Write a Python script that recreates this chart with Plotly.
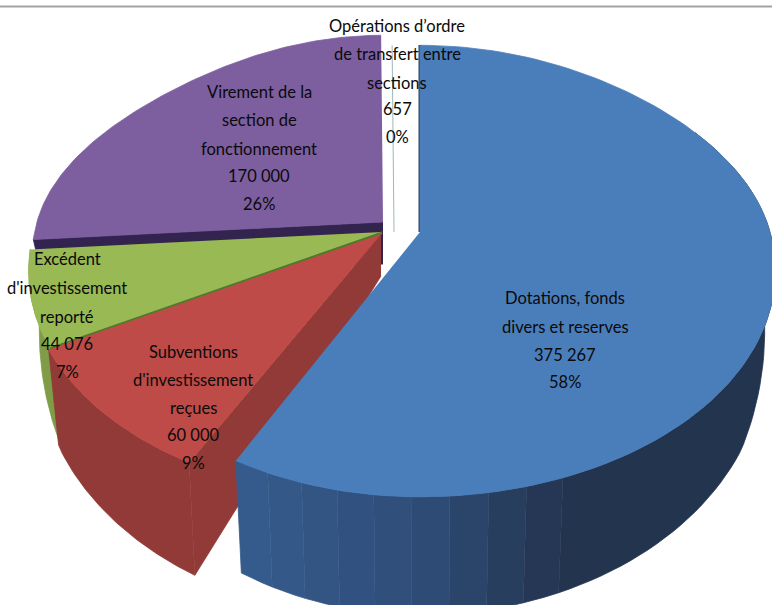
"""3D-looking exploded pie of the investment budget, drawn with filled scatter traces."""

import numpy as np
import plotly.graph_objects as go

# Chart data
categories = [
    ["Dotations, fonds", "divers et reserves"],
    ["Subventions", "d'investissement", "reçues"],
    ["Excédent", "d'investissement", "reporté"],
    ["Virement de la", "section de", "fonctionnement"],
    ["Opérations d’ordre", "de transfert entre", "sections"],
]
values = [375267, 60000, 44076, 170000, 657]

# Styles, in the same order as the slices
top_colors = ["#4a7ebb", "#be4b48", "#98b954", "#7d5fa0", "#9db8bd"]
wall_colors = ["#2f4d78", "#923a37", "#7f9c46", "#33234f", "#9db8bd"]
cut_colors = ["#2a3f60", "#923a37", "#4f7a2a", "#33234f", "#9db8bd"]
apexes = [(420, 232), (381, 234), (382, 232), (383, 222), (394, 232)]
left_radii = [334, 348, 348, 346, 350]
flatten = [0.02, 0, 0, 0.045, 0]  # the far part of the rim is not quite elliptical
label_x = [565, 193, 67, 259, 397]
label_y = [
    [298, 327, 355, 382],
    [352, 380, 408, 435, 463],
    [259, 288, 317, 344, 372],
    [92, 120, 149, 176, 204],
    [26, 54, 83, 109, 137],
]

# Projection of the pie disc, in pixels
RADIUS_X = 350
RADIUS_Y = 219
TILT = 0.173
WALL_SHRINK = 0.97


def rim(angle, i):
    """Project angles (degrees clockwise from the top) on to the rim of slice i."""
    t = np.radians(angle)
    far = np.cos(t) > 0
    r = 1 - flatten[i] * far * np.sin(2 * t) ** 2
    u, v = r * np.sin(t), r * np.cos(t)
    w = 1 + TILT * v
    radius = np.where(u < 0, left_radii[i], RADIUS_X)
    return apexes[i][0] + radius * u / w, apexes[i][1] - RADIUS_Y * v / w


def drop(x, y, i):
    """Move a point of the top face down to the bottom of the wall."""
    depth = np.interp(y, [232, 353, 465, 497], [42, 97, 113, 118])
    return apexes[i][0] + (x - apexes[i][0]) * WALL_SHRINK, y + depth


def add_poly(fig, xs, ys, color, width=0.8):
    fig.add_trace(go.Scatter(
        x=list(xs),
        y=list(ys),
        mode="lines",
        fill="toself",
        fillcolor=color,
        line=dict(color=color, width=width),
        hoverinfo="skip",
    ))


def blue_wall_color(angle):
    stops = [160, 180, 208]
    reds = np.interp(angle, stops, [0x23, 0x2f, 0x36])
    greens = np.interp(angle, stops, [0x34, 0x4d, 0x5d])
    blues = np.interp(angle, stops, [0x4f, 0x78, 0x8f])
    return f"rgb({reds:.0f},{greens:.0f},{blues:.0f})"


def add_wall(fig, a0, a1, i, color_of, strips=1):
    """Outer wall of slice i, in strips so that its shade can change."""
    edges = np.linspace(a0, a1, strips + 1)
    for left, right in zip(edges[:-1], edges[1:]):
        x, y = rim(np.linspace(left, right, 60), i)
        xb, yb = drop(x, y, i)
        add_poly(fig, np.r_[x, xb[::-1]], np.r_[y, yb[::-1]], color_of((left + right) / 2))


def add_top(fig, i):
    x, y = rim(np.linspace(starts[i], ends[i], 120), i)
    add_poly(fig, np.r_[apexes[i][0], x], np.r_[apexes[i][1], y], top_colors[i])


def add_cut(fig, i):
    x0, y0 = rim(starts[i], i)
    xb, yb = drop(x0, y0, i)
    add_poly(fig, [apexes[i][0], x0, xb, apexes[i][0]],
             [apexes[i][1], y0, yb, apexes[i][1] + 42], cut_colors[i])


total = sum(values)
starts = np.r_[0, np.cumsum(values)[:-1]] / total * 360
ends = np.cumsum(values) / total * 360

fig = go.Figure()

# Painted back to front: purple, the thin slice, green, red, blue
add_cut(fig, 3)
add_top(fig, 3)

x0, y0 = rim(starts[4], 4)
fig.add_trace(go.Scatter(
    x=[apexes[4][0], x0],
    y=[apexes[4][1], y0],
    mode="lines",
    line=dict(color=top_colors[4], width=1),
    hoverinfo="skip",
))

add_wall(fig, starts[2], ends[2], 2, lambda a: wall_colors[2])
add_top(fig, 2)
x0, y0 = rim(starts[2], 2)
fig.add_trace(go.Scatter(
    x=[apexes[2][0], x0],
    y=[apexes[2][1] + 1, y0 + 1],
    mode="lines",
    line=dict(color=cut_colors[2], width=2.5),
    hoverinfo="skip",
))

add_cut(fig, 1)
add_wall(fig, starts[1], ends[1], 1, lambda a: wall_colors[1])
add_top(fig, 1)

fig.add_trace(go.Scatter(
    x=[apexes[0][0], apexes[0][0]],
    y=[apexes[0][1], apexes[0][1] - 187],
    mode="lines",
    line=dict(color=cut_colors[0], width=3),
    hoverinfo="skip",
))
add_wall(fig, 60, 160, 0, blue_wall_color)
add_wall(fig, 160, ends[0], 0, blue_wall_color, strips=9)
add_top(fig, 0)

# Data labels, one annotation per line to get the line spacing of the original
for name_lines, value, x, ys in zip(categories, values, label_x, label_y):
    lines = name_lines + [f"{value:,}".replace(",", " "), f"{value / total:.0%}"]
    for line, y in zip(lines, ys):
        fig.add_annotation(
            x=x, y=y, text=line, showarrow=False,
            xanchor="center", yanchor="middle",
            font=dict(family="Lato, Roboto, sans-serif", size=16.5, color="#0a0a0a"),
        )

# Frame line along the top of the picture
fig.add_shape(type="line", xref="paper", yref="y", x0=0, x1=1, y0=6.5, y1=6.5,
              line=dict(color="#a3a3a3", width=2))

fig.update_layout(
    width=772,
    height=605,
    showlegend=False,
    paper_bgcolor="#ffffff",
    plot_bgcolor="#ffffff",
    margin=dict(l=0, r=0, t=0, b=0),
    xaxis=dict(visible=False, range=[0, 772], fixedrange=True),
    yaxis=dict(visible=False, range=[605, 0], fixedrange=True),
)

# The page's default body margin would push the chart 8 px in
fig.write_html(
    "out.html",
    config=dict(displayModeBar=False),
    post_script="document.body.style.margin = '0'; document.body.style.overflow = 'hidden';",
)
